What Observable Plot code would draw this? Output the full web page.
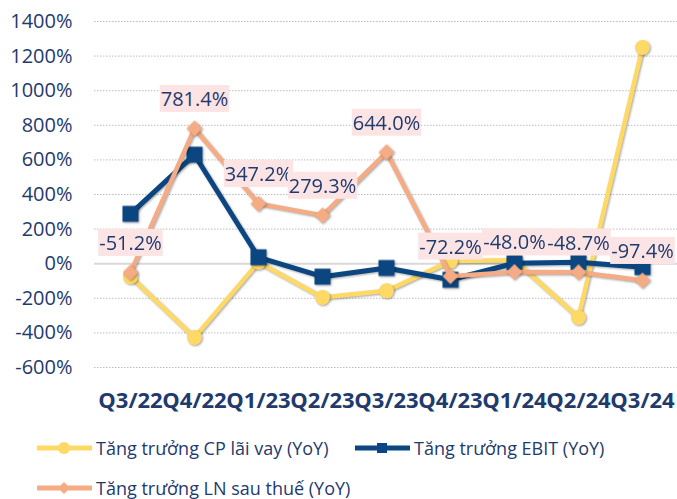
<!DOCTYPE html>
<html>
<head>
<meta charset="utf-8">
<script src="https://cdn.jsdelivr.net/npm/d3@7"></script>
<script src="https://cdn.jsdelivr.net/npm/@observablehq/plot@0.6"></script>
<style>
  html, body { margin: 0; padding: 0; background: #fff; }
  body { width: 677px; height: 499px; overflow: hidden; font-family: "Open Sans", sans-serif; }
  #legend { position: relative; width: 677px; height: 84px; color: #1F3A6D; font-size: 18px; }
  .item { position: absolute; display: flex; align-items: center; white-space: nowrap; }
  .item svg { margin-right: 4px; }
</style>
</head>
<body>
<div id="chart"></div>
<div id="legend"></div>
<script>
const categories = ["Q3/22","Q4/22","Q1/23","Q2/23","Q3/23","Q4/23","Q1/24","Q2/24","Q3/24"];
const cpLaiVay  = [-75, -427, 8, -195, -157, 15, 20, -311, 1250];
const ebit      = [288, 630, 37, -75, -25, -93, 3, 9, -20];
const lnSauThue = [-51.2, 781.4, 347.2, 279.3, 644.0, -72.2, -48.0, -48.7, -97.4];
const yTicks = [-600, -400, -200, 0, 200, 400, 600, 800, 1000, 1200, 1400];
const seriesNames = ["Tăng trưởng CP lãi vay (YoY)", "Tăng trưởng EBIT (YoY)", "Tăng trưởng LN sau thuế (YoY)"];
const seriesColors = ["#FFD966", "#0B4680", "#F5AC84"];
const textColor = "#1F3A6D";

const rows = (vals) => categories.map((c, i) => ({cat: c, value: vals[i]}));
const cpData = rows(cpLaiVay);
const ebitData = rows(ebit);
const lnData = rows(lnSauThue).map(d => ({...d, label: d.value.toFixed(1) + "%"}));

const diamond = {
  draw(context, size) {
    const h = Math.sqrt(size / Math.PI);
    context.moveTo(0, -h); context.lineTo(h, 0); context.lineTo(0, h); context.lineTo(-h, 0); context.closePath();
  }
};

const chart = Plot.plot({
  width: 677, height: 415,
  marginLeft: 94, marginRight: 0, marginTop: 21, marginBottom: 48,
  style: {fontFamily: "Open Sans", background: "#fff", overflow: "visible"},
  x: {type: "point", domain: categories, padding: 0.5, label: null},
  y: {domain: [-600, 1400], label: null},
  marks: [
    Plot.gridY(yTicks.filter(d => d !== 0), {stroke: "#bdbdbd", strokeOpacity: 1, strokeDasharray: "1.5,1.5"}),
    Plot.ruleY([0], {stroke: "#d9d9d9", strokeWidth: 2}),
    Plot.axisY({ticks: yTicks, tickSize: 0, tickPadding: 22, tickFormat: d => d + "%", fontSize: 20, color: textColor, label: null}),
    Plot.axisX({tickSize: 0, tickPadding: 25, fontSize: 22, fontWeight: "bold", color: textColor, label: null}),
    Plot.line(cpData, {x: "cat", y: "value", stroke: seriesColors[0], strokeWidth: 4.5}),
    Plot.dot(cpData, {x: "cat", y: "value", fill: seriesColors[0], r: 7.5, symbol: "circle"}),
    Plot.line(ebitData, {x: "cat", y: "value", stroke: seriesColors[1], strokeWidth: 5}),
    Plot.dot(ebitData, {x: "cat", y: "value", fill: seriesColors[1], r: 9, symbol: "square"}),
    Plot.line(lnData, {x: "cat", y: "value", stroke: seriesColors[2], strokeWidth: 4.5}),
    Plot.dot(lnData, {x: "cat", y: "value", fill: seriesColors[2], r: 8, symbol: diamond}),
    Plot.text(lnData, {x: "cat", y: "value", text: "label", dy: -29, fontSize: 20, fill: textColor})
  ]
});
document.getElementById("chart").appendChild(chart);

// drop shadows on series
chart.querySelectorAll('g[aria-label="line"], g[aria-label="dot"]').forEach(g => {
  g.style.filter = "drop-shadow(1.5px 1.5px 1.2px rgba(0,0,0,0.35))";
});

// label background boxes
chart.querySelectorAll('g[aria-label="text"] text').forEach(t => {
  const b = t.getBBox();
  const r = document.createElementNS("http://www.w3.org/2000/svg", "rect");
  r.setAttribute("x", b.x - 1);
  r.setAttribute("y", b.y);
  r.setAttribute("width", b.width + 2);
  r.setAttribute("height", b.height);
  r.setAttribute("fill", "#FCE4E4");
  const tr = t.getAttribute("transform");
  if (tr) r.setAttribute("transform", tr);
  t.parentNode.insertBefore(r, t);
});

// legend
const legend = document.getElementById("legend");
const legendPos = [{left: 37, top: 33}, {left: 355, top: 33}, {left: 37, top: 73}];
const swatchMarks = [
  (c) => `<circle cx="27" cy="7" r="6" fill="${c}"/>`,
  (c) => `<rect x="22" y="2" width="10" height="10" fill="${c}"/>`,
  (c) => `<path d="M27,1 L33,7 L27,13 L21,7 Z" fill="${c}"/>`
];
seriesNames.forEach((name, i) => {
  const div = document.createElement("div");
  div.className = "item";
  div.style.left = legendPos[i].left + "px";
  div.style.top = (legendPos[i].top - 12) + "px";
  div.style.height = "24px";
  div.innerHTML = `<svg width="55" height="14"><line x1="0" x2="55" y1="7" y2="7" stroke="${seriesColors[i]}" stroke-width="5"/>${swatchMarks[i](seriesColors[i])}</svg><span>${name}</span>`;
  legend.appendChild(div);
});
</script>
</body>
</html>
